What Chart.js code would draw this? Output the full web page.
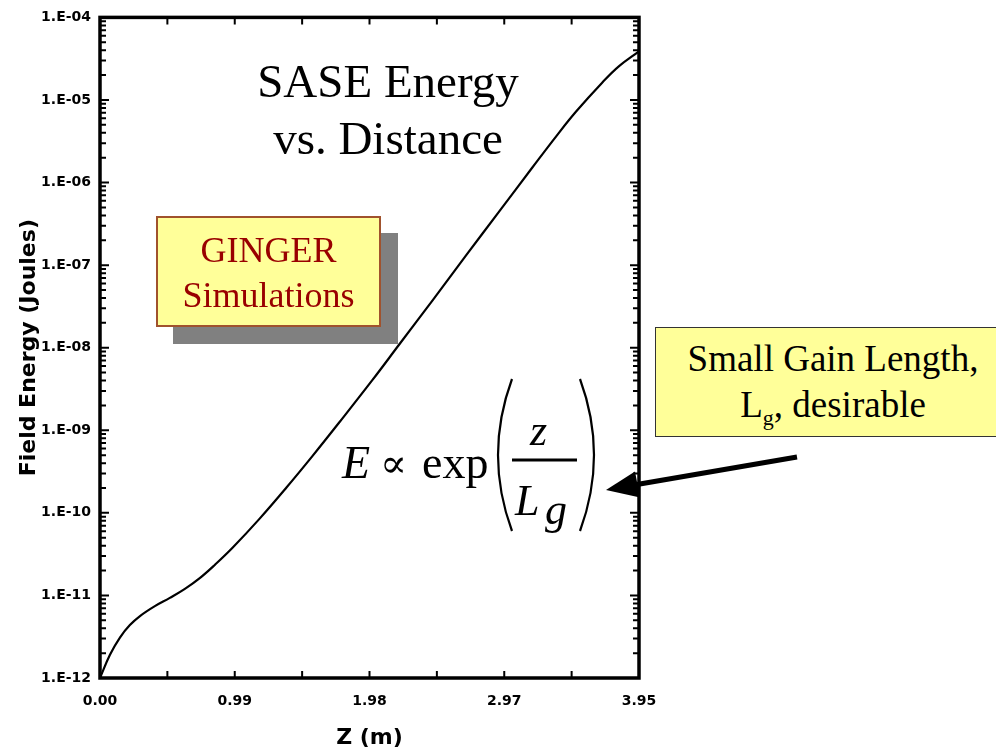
<!DOCTYPE html>
<html>
<head>
<meta charset="utf-8">
<script src="https://cdn.jsdelivr.net/npm/chart.js@4/dist/chart.umd.min.js"></script>
<style>
  body { margin: 0; background: #fff; }
  #wrap { position: relative; width: 996px; height: 754px; overflow: hidden; }
  #chartCanvas { position: absolute; left: 0; top: 0; }
  .serif { position: absolute; font-family: "Liberation Serif", "Times New Roman", serif; }
  #title { left: 228px; top: 53px; width: 320px; font-size: 47px; line-height: 57px; text-align: center; color: #000; }
  #ginger { left: 156px; top: 216px; width: 225px; height: 111px; box-sizing: border-box;
            background: #ffff99; border: 2px solid #a0522d; box-shadow: 17px 17px 0 #808080;
            color: #990000; font-size: 36px; line-height: 45px; text-align: center; padding-top: 10px; }
  #gain { left: 655px; top: 327px; width: 356px; height: 110px; box-sizing: border-box;
          background: #ffff99; border: 1.5px solid #333; color: #000;
          font-size: 37px; line-height: 46px; text-align: center; padding-top: 8px; }
  #gain sub { font-size: 22px; line-height: 0; }
  #overlay { position: absolute; left: 0; top: 0; pointer-events: none; }
</style>
</head>
<body>
<div id="wrap">
  <canvas id="chartCanvas" width="996" height="754"></canvas>
  <div id="title" class="serif">SASE Energy<br>vs. Distance</div>
  <div id="ginger" class="serif">GINGER<br>Simulations</div>
  <div id="gain" class="serif">Small Gain Length,<br>L<sub>g</sub>, desirable</div>
  <svg id="overlay" width="996" height="754">
    <g font-family="Liberation Serif, Times New Roman, serif" fill="#000">
      <text x="342" y="478" font-size="46" font-style="italic">E</text>
      <text x="380" y="477" font-size="40" font-family="DejaVu Serif, serif">∝</text>
      <text x="422" y="478" font-size="46">exp</text>
      <text x="530" y="445" font-size="44" font-style="italic">z</text>
      <text x="515" y="515" font-size="44" font-style="italic">L</text>
      <text x="545" y="524" font-size="44" font-style="italic">g</text>
    </g>
    <path d="M 512 379 Q 484 455 512 531" stroke="#000" stroke-width="2.2" fill="none"/>
    <path d="M 580 379 Q 608 455 580 531" stroke="#000" stroke-width="2.2" fill="none"/>
    <line x1="512" y1="460" x2="577" y2="460" stroke="#000" stroke-width="3"/>
    <line x1="797" y1="457" x2="634" y2="485" stroke="#000" stroke-width="5"/>
    <polygon points="606,490 635,471.5 640,497.5" fill="#000"/>
  </svg>
</div>
<script>
// Z position along the undulator (m) and field energy (Joules)
const zMeters = [0.000, 0.073, 0.146, 0.219, 0.293, 0.402, 0.512, 0.622, 0.731, 0.841,
                 0.973, 1.170, 1.368, 1.558, 1.756, 1.997, 2.194, 2.436, 2.684, 2.926,
                 3.167, 3.343, 3.489, 3.680, 3.804, 3.950];
const fieldEnergy = [1.0e-12, 1.91e-12, 3.09e-12, 4.37e-12, 5.62e-12, 7.41e-12, 9.33e-12, 1.20e-11, 1.62e-11, 2.34e-11,
                     3.80e-11, 8.51e-11, 2.04e-10, 4.90e-10, 1.26e-9, 4.07e-9, 1.10e-8, 3.72e-8, 1.32e-7, 4.47e-7,
                     1.51e-6, 3.63e-6, 7.24e-6, 1.62e-5, 2.57e-5, 3.89e-5];

const xTickValues = [0, 0.9875, 1.975, 2.9625, 3.95];
const xTickLabels = ['0.00', '0.99', '1.98', '2.97', '3.95'];
const yTickValues = [1e-12, 1e-11, 1e-10, 1e-9, 1e-8, 1e-7, 1e-6, 1e-5, 1e-4];
const yTickLabels = ['1.E-12', '1.E-11', '1.E-10', '1.E-09', '1.E-08', '1.E-07', '1.E-06', '1.E-05', '1.E-04'];

// inward ticks on all four sides plus the heavy frame
const frameTicks = {
    id: 'frameTicks',
    afterDatasetsDraw(chart) {
        const {ctx, chartArea: a, scales: {x, y}} = chart;
        ctx.save();
        ctx.strokeStyle = '#000';
        ctx.lineWidth = 2;
        ctx.beginPath();
        for (let i = 0; i < xTickValues.length; i++) {
            const pts = [xTickValues[i]];
            if (i < xTickValues.length - 1) pts.push((xTickValues[i] + xTickValues[i + 1]) / 2);
            for (const p of pts) {
                const px = x.getPixelForValue(p);
                ctx.moveTo(px, a.bottom); ctx.lineTo(px, a.bottom - 7);
                ctx.moveTo(px, a.top); ctx.lineTo(px, a.top + 7);
            }
        }
        for (let d = 0; d < yTickValues.length; d++) {
            for (let m = 1; m <= 9; m++) {
                if (d === yTickValues.length - 1 && m > 1) break;
                const py = y.getPixelForValue(yTickValues[d] * m);
                const len = m === 1 ? 9 : 6;
                ctx.moveTo(a.left, py); ctx.lineTo(a.left + len, py);
                ctx.moveTo(a.right, py); ctx.lineTo(a.right - len, py);
            }
        }
        ctx.stroke();
        ctx.lineWidth = 3.5;
        ctx.strokeRect(a.left, a.top, a.right - a.left, a.bottom - a.top);
        ctx.restore();
    }
};

const tickFont = {family: 'DejaVu Sans', size: 14, weight: 'bold'};
const titleFont = {family: 'DejaVu Sans', size: 22, weight: 'bold'};

const myChart = new Chart(document.getElementById('chartCanvas'), {
    type: 'line',
    data: {
        datasets: [{
            label: 'Field Energy',
            data: zMeters.map((z, i) => ({x: z, y: fieldEnergy[i]})),
            borderColor: '#000',
            borderWidth: 2.2,
            pointRadius: 0,
            fill: false,
            tension: 0.4
        }]
    },
    options: {
        responsive: false,
        animation: false,
        layout: {padding: {top: 15, right: 357, left: 0, bottom: 0}},
        plugins: {legend: {display: false}, tooltip: {enabled: false}},
        scales: {
            x: {
                type: 'linear',
                min: 0,
                max: 3.95,
                afterBuildTicks: s => { s.ticks = xTickValues.map(v => ({value: v})); },
                afterFit: s => { s.height = 76; },
                grid: {display: false, drawTicks: false},
                border: {display: false},
                ticks: {
                    autoSkip: false, maxRotation: 0, padding: 15,
                    color: '#000', font: tickFont,
                    callback: (v, i) => xTickLabels[i]
                },
                title: {display: true, text: 'Z (m)', color: '#000', font: titleFont, padding: {top: 0, bottom: 3}}
            },
            y: {
                type: 'logarithmic',
                min: 1e-12,
                max: 1e-4,
                afterBuildTicks: s => { s.ticks = yTickValues.map(v => ({value: v})); },
                afterFit: s => { s.width = 100; },
                grid: {display: false, drawTicks: false},
                border: {display: false},
                ticks: {
                    autoSkip: false, padding: 9,
                    color: '#000', font: tickFont,
                    callback: (v, i) => yTickLabels[i]
                },
                title: {display: true, text: 'Field Energy (Joules)', color: '#000', font: titleFont, padding: {top: 16, bottom: 0}}
            }
        }
    },
    plugins: [frameTicks]
});
</script>
</body>
</html>
